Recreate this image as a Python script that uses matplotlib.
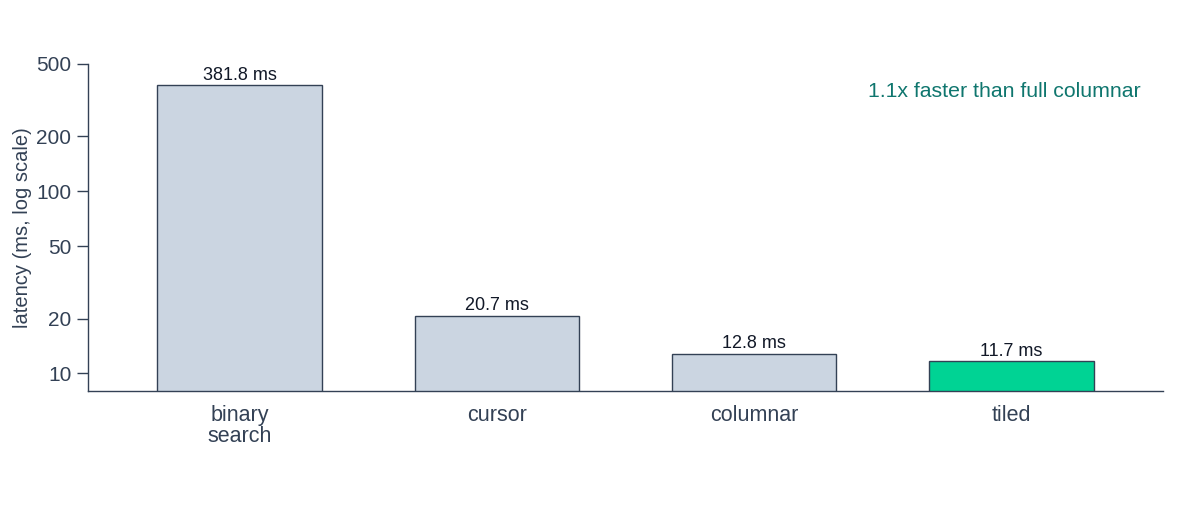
import matplotlib.pyplot as plt

plt.rcParams['font.family'] = ['Liberation Sans', 'DejaVu Sans']

methods = ['binary\nsearch', 'cursor', 'columnar', 'tiled']
latency_ms = [381.8, 20.7, 12.8, 11.7]
bar_colors = ['#cbd5e1', '#cbd5e1', '#cbd5e1', '#00d394']
speedup_note = '1.1x faster than full columnar'

ink = '#334155'

fig = plt.figure(figsize=(12, 5.2), dpi=100)
ax = fig.add_axes([0.0733, 0.248, 0.896, 0.629])

x = range(len(methods))
bars = ax.bar(x, latency_ms, width=0.64, color=bar_colors, edgecolor=ink, linewidth=1.0)
for b, v in zip(bars, latency_ms):
    ax.annotate(f'{v:.1f} ms', (b.get_x() + b.get_width() / 2, v),
                xytext=(0, 1), textcoords='offset points',
                ha='center', va='bottom', fontsize=13, color='#111827')

ax.set_yscale('log')
ax.set_ylim(8, 500)
ax.set_xlim(-0.59, 3.59)
ticks = [10, 20, 50, 100, 200, 500]
ax.set_yticks(ticks)
ax.set_yticklabels([str(t) for t in ticks])
ax.minorticks_off()
ax.set_xticks(list(x))
ax.set_xticklabels(methods, linespacing=1.0)

ax.tick_params(axis='y', length=8, width=1, color=ink, labelcolor=ink, labelsize=15, pad=4)
ax.tick_params(axis='x', length=0, labelcolor=ink, labelsize=15.5, pad=10)
for s in ['top', 'right']:
    ax.spines[s].set_visible(False)
for s in ['left', 'bottom']:
    ax.spines[s].set_color(ink)
    ax.spines[s].set_linewidth(1.0)

ax.set_ylabel('latency (ms, log scale)', fontsize=14.5, color=ink, labelpad=3)

ax.text(0.9795, 0.917, speedup_note, transform=ax.transAxes, ha='right', va='center',
        fontsize=15.3, color='#0f766e')

fig.savefig('out.png', dpi=100)
